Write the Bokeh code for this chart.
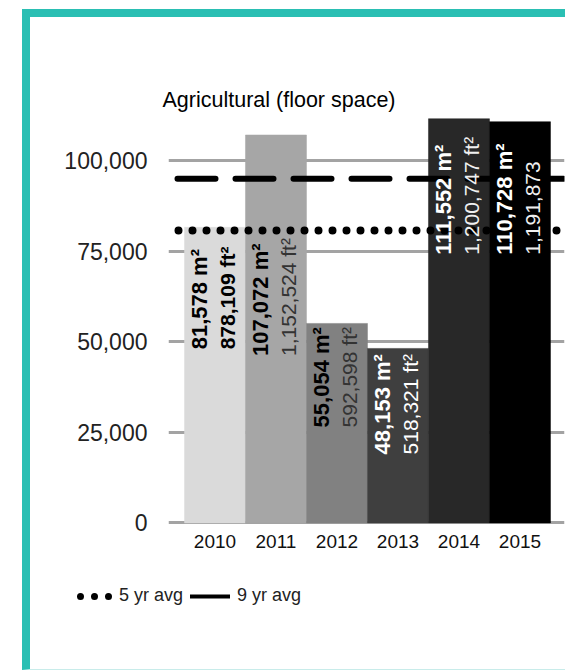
import numpy as np
from bokeh.plotting import figure
from bokeh.layouts import column, row
from bokeh.models import (ColumnDataSource, Range1d, FixedTicker, NumeralTickFormatter,
                          Span, Legend, LegendItem)
from bokeh.core.properties import value
from bokeh.embed import file_html
from bokeh.resources import INLINE

# ---- data ----
years = ["2010", "2011", "2012", "2013", "2014", "2015"]
floor_m2 = [81578, 107072, 55054, 48153, 111552, 110728]
floor_ft2_labels = ["878,109 ft²", "1,152,524 ft²", "592,598 ft²",
                    "518,321 ft²", "1,200,747 ft²", "1,191,873"]
nine_yr_avg = 95000
y_ticks = [0, 25000, 50000, 75000, 100000]
title_text = "Agricultural  (floor space)"
legend_labels = ["5 yr avg", "9 yr avg"]

five_yr_avg = sum(floor_m2[:5]) / 5

# ---- styles ----
bar_colors = ["#dadada", "#a6a6a6", "#818181", "#3f3f3f", "#282828", "#000000"]
m2_colors = ["#000000", "#000000", "#000000", "#ffffff", "#ffffff", "#ffffff"]
ft2_colors = ["#000000", "#333333", "#333333", "#ffffff", "#f0f0f0", "#f0f0f0"]
ft2_styles = ["bold", "normal", "normal", "normal", "normal", "normal"]
# pixel distance from the top of each bar down to where its labels start
label_start_px = [122, 221, 104, 106, 136, 133]
TEAL = "#2abfb3"
FONT = "Liberation Sans"
W, H_MAIN, H_LEG = 543, 545, 116

p = figure(width=W, height=H_MAIN, output_backend="svg", toolbar_location=None,
           x_range=Range1d(-0.762, 5.73), y_range=Range1d(-1000, 113000),
           min_border_left=138, min_border_right=9, min_border_top=96,
           min_border_bottom=36)
p.styles = {"margin-left": "22px", "margin-top": "9px",
            "border-left": f"8px solid {TEAL}", "border-top": f"8px solid {TEAL}"}
p.outline_line_color = None
p.background_fill_color = "white"
p.border_fill_color = "white"

idx = list(range(len(years)))
src = ColumnDataSource(dict(
    x=idx, top=floor_m2, color=bar_colors,
    m2=[f"{v:,} m²" for v in floor_m2], ft2=floor_ft2_labels,
    m2c=m2_colors, ft2c=ft2_colors, ft2s=ft2_styles, off=label_start_px))

p.vbar(x="x", top="top", bottom=0, width=1.0, fill_color="color",
       line_color="color", line_width=0.5, source=src)

# grid
p.xgrid.visible = False
p.ygrid.ticker = FixedTicker(ticks=y_ticks)
p.ygrid.grid_line_color = "#a3a3a3"
p.ygrid.grid_line_width = 3

# y axis
p.yaxis.ticker = FixedTicker(ticks=y_ticks)
p.yaxis.formatter = NumeralTickFormatter(format="0,0")
p.yaxis.axis_line_color = None
p.yaxis.major_tick_line_color = None
p.yaxis.major_tick_out = 0
p.yaxis.major_tick_in = 0
p.yaxis.minor_tick_line_color = None
p.yaxis.major_label_standoff = 21
p.yaxis.major_label_text_font = FONT
p.yaxis.major_label_text_font_size = "23px"
p.yaxis.major_label_text_color = "#222222"

# x axis
p.xaxis.ticker = FixedTicker(ticks=idx)
p.xaxis.major_label_overrides = {i: y for i, y in zip(idx, years)}
p.xaxis.axis_line_color = None
p.xaxis.major_tick_line_color = None
p.xaxis.major_tick_out = 0
p.xaxis.major_tick_in = 0
p.xaxis.minor_tick_line_color = None
p.xaxis.major_label_standoff = 8
p.xaxis.major_label_text_font = FONT
p.xaxis.major_label_text_font_size = "19px"
p.xaxis.major_label_text_color = "#111111"

# average lines
p.add_layout(Span(location=five_yr_avg, dimension="width", line_color="black",
                  line_width=8, line_dash="0 14", line_cap="round",
                  line_dash_offset=4))
p.add_layout(Span(location=nine_yr_avg, dimension="width", line_color="black",
                  line_width=6, line_dash="38 20", line_cap="round",
                  line_dash_offset=49))

# bar labels (vertical, reading upwards)
t1 = p.text(x="x", y="top", text="m2", source=src, angle=np.pi / 2,
            text_align="left", text_baseline="middle", x_offset=-15, y_offset="off",
            text_font=value(FONT), text_font_size="22px", text_font_style="bold",
            text_color="m2c")
t1.level = "overlay"
t2 = p.text(x="x", y="top", text="ft2", source=src, angle=np.pi / 2,
            text_align="left", text_baseline="middle", x_offset=13, y_offset="off",
            text_font=value(FONT), text_font_size="21px", text_font_style="ft2s",
            text_color="ft2c")
t2.level = "overlay"

# title
p.title.text = title_text
p.title.align = "left"
p.title.offset = -6
p.title.text_font = FONT
p.title.text_font_size = "21.5px"
p.title.text_font_style = "normal"
p.title.text_color = "black"
p.title.standoff = 4

# legend (separate strip below the chart)
q = figure(width=W, height=H_LEG, output_backend="svg", toolbar_location=None,
           x_range=Range1d(0, 1), y_range=Range1d(0, 1),
           x_axis_location=None, y_axis_location=None, min_border=0)
q.styles = {"margin-left": "22px", "border-left": f"8px solid {TEAL}",
            "border-bottom": "1px solid #c8ecea"}
q.outline_line_color = None
q.grid.visible = False
l5 = q.line(x=[0, 1], y=[five_yr_avg, five_yr_avg], line_color="black",
            line_width=7, line_dash="0 14", line_cap="round", line_dash_offset=6)
l9 = q.line(x=[0, 1], y=[nine_yr_avg, nine_yr_avg], line_color="black",
            line_width=4, line_cap="round")
l5.visible = False
l9.visible = False
legend = Legend(items=[LegendItem(label=legend_labels[0], renderers=[l5]),
                       LegendItem(label=legend_labels[1], renderers=[l9])],
                orientation="horizontal", location=(42, 64), glyph_width=40,
                glyph_height=20, label_standoff=7, spacing=7, padding=0, margin=0,
                border_line_color=None, background_fill_alpha=0,
                label_text_font=FONT, label_text_font_size="18px",
                label_text_color="#222222")
q.add_layout(legend)

layout = column(p, row(q), spacing=0)
open("out.html", "w").write(file_html(layout, INLINE))
